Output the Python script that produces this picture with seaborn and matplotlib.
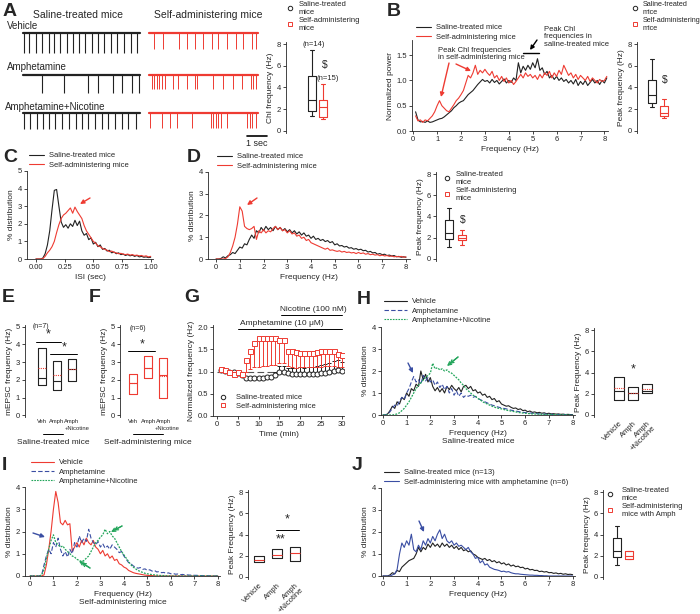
import numpy as np
import seaborn as sns
import matplotlib.pyplot as plt
from matplotlib.lines import Line2D

W, H = 700, 614
RED = "#ee3b32"
BLUE = "#3a4ea3"
GREEN = "#22a55a"
BLK = "#222222"

# ---------------- data ----------------
# A: spike times (s) in the example traces
veh_sal_spk = [0.05, 0.32, 0.63, 0.93, 1.32, 1.55, 1.85, 2.18, 2.48, 2.8, 3.12, 3.45, 3.77, 4.05, 4.38, 4.72, 5.05, 5.38, 5.68]
veh_self_spk = [0.25, 0.72, 1.5, 1.92, 2.3, 2.72, 3.13, 3.47, 3.88, 4.33, 4.72, 5.13, 5.35]
amph_sal_spk = [0.93, 2.07, 3.27, 3.73, 4.48, 4.97, 5.43, 5.82]
amph_self_spk = [0.13, 0.25, 0.38, 0.52, 0.63, 0.82, 1.22, 1.47, 1.88, 2.3, 2.42, 3.22, 3.68, 4.18, 4.67, 5.08, 5.22, 5.35]
nic_sal_spk = [0.05, 0.35, 0.68, 0.98, 1.32, 1.6, 1.93, 2.32, 2.65, 2.97, 3.27, 3.6, 3.93, 4.27, 4.6, 4.97, 5.27, 5.63]
nic_self_spk = [0.05, 0.67, 1.05, 1.42, 2.13, 3.08, 3.22, 3.35, 3.47, 3.6, 3.88, 4.92, 5.05, 5.17, 5.35]

# box stats: [saline, self-administering]
a_lo, a_q1, a_med, a_q3, a_hi = [1.4, 1.1], [1.8, 1.3], [2.8, 2.2], [5.1, 2.85], [7.5, 4.3]
b_lo, b_q1, b_med, b_q3, b_hi = [2.2, 1.2], [2.6, 1.4], [3.3, 1.6], [4.7, 2.3], [6.6, 2.9]
d_lo, d_q1, d_med, d_q3, d_hi = [1.1, 1.3], [1.9, 1.8], [2.4, 2.0], [3.7, 2.3], [4.8, 2.7]
j_lo, j_q1, j_med, j_q3, j_hi = [1.1, 1.7], [1.9, 1.7], [2.4, 2.0], [3.7, 2.4], [4.8, 2.4]

# B: normalized power, 0.1 .. 8.1 Hz
b_freq = np.round(np.arange(0.1, 8.15, 0.1), 1)
b_saline = [0.38, 0.22, 0.18, 0.19, 0.17, 0.20, 0.17, 0.18, 0.20, 0.22,
            0.24, 0.25, 0.28, 0.32, 0.36, 0.40, 0.46, 0.50, 0.55, 0.58,
            0.60, 0.66, 0.72, 0.76, 0.80, 0.86, 0.92, 0.97, 1.02, 0.98,
            1.00, 0.95, 1.02, 0.96, 1.00, 0.93, 0.98, 1.03, 0.95, 1.00,
            0.96, 1.05, 1.00, 1.35, 1.15, 1.28, 1.20, 1.30, 1.22, 1.35,
            1.25, 1.43, 1.20, 1.25, 1.12, 1.18, 1.05, 1.10, 1.02, 1.08,
            1.00, 1.05, 0.98, 1.02, 0.95, 1.00, 0.93, 1.02, 0.90, 0.98,
            0.92, 1.00, 0.90, 0.96, 1.02, 0.95, 1.00, 0.92, 1.00, 0.95,
            1.05]
b_self = [0.30, 0.20, 0.22, 0.17, 0.22, 0.20, 0.25, 0.30, 0.38, 0.50,
          0.60, 0.50, 0.45, 0.40, 0.38, 0.45, 0.52, 0.60, 0.65, 0.72,
          0.80, 0.95, 1.10, 1.05, 1.15, 1.30, 1.12, 1.20, 1.15, 1.22,
          1.15, 1.10, 1.18, 1.05, 1.10, 1.00, 1.08, 0.98, 1.05, 0.95,
          1.00, 0.92, 0.98, 1.05, 1.12, 1.05, 1.15, 1.08, 1.12, 1.05,
          1.10, 1.02, 1.12, 1.05, 1.15, 1.10, 1.18, 1.05, 1.15, 1.08,
          1.20, 1.12, 1.30, 1.20, 1.10, 1.15, 1.05, 1.12, 1.02, 1.10,
          1.05, 1.00, 1.08, 0.98, 1.05, 1.00, 0.95, 1.02, 0.98, 1.00,
          1.08]

# C: ISI distribution, 0 .. 1 s
isi = np.round(np.arange(0, 1.001, 0.02), 2)
c_saline = [0, 0, 0, 0.05, 0.3, 0.8, 1.6, 2.8, 3.9, 3.95,
            3.0, 2.1, 1.8, 1.95, 1.75, 2.0, 1.85, 2.2, 1.9, 2.15,
            1.6, 1.35, 1.45, 1.1, 1.2, 0.85, 0.95, 0.7, 0.8, 0.55,
            0.6, 0.45, 0.5, 0.35, 0.4, 0.3, 0.35, 0.25, 0.28, 0.2,
            0.25, 0.18, 0.22, 0.15, 0.2, 0.12, 0.15, 0.1, 0.12, 0.08,
            0.1]
c_self = [0, 0, 0, 0.02, 0.15, 0.35, 0.5, 0.7, 1.0, 1.5,
          1.95, 2.3, 2.5, 2.6, 2.75, 2.9, 2.6, 2.95, 2.7, 2.5,
          2.3, 1.9, 1.6, 1.4, 1.2, 1.0, 0.9, 0.75, 0.7, 0.6,
          0.55, 0.5, 0.42, 0.45, 0.38, 0.35, 0.3, 0.32, 0.28, 0.25,
          0.28, 0.22, 0.25, 0.2, 0.22, 0.18, 0.2, 0.15, 0.18, 0.12,
          0.15]

# frequency distributions, 0 .. 8 Hz
freq = np.round(np.arange(0, 8.01, 0.1), 1)
d_saline = [0, 0, 0.02, 0.1, 0.05, 0.15, 0.2, 0.3, 0.25, 0.4,
            0.55, 0.5, 0.7, 0.65, 0.9, 1.1, 0.95, 1.3, 1.2, 1.45,
            1.3, 1.5, 1.35, 1.45, 1.3, 1.5, 1.35, 1.45, 1.3, 1.4,
            1.25, 1.35, 1.2, 1.3, 1.15, 1.25, 1.1, 1.2, 1.05, 1.1,
            0.95, 1.05, 0.9, 0.95, 0.85, 0.9, 0.8, 0.85, 0.75, 0.8,
            0.65, 0.7, 0.6, 0.62, 0.55, 0.58, 0.5, 0.52, 0.45, 0.48,
            0.42, 0.45, 0.38, 0.4, 0.32, 0.35, 0.28, 0.3, 0.22, 0.25,
            0.2, 0.22, 0.16, 0.18, 0.14, 0.16, 0.1, 0.12, 0.08, 0.1,
            0.08]
d_self = [0, 0, 0, 0, 0.02, 0.1, 0.3, 0.6, 1.0, 1.6,
          2.4, 2.2, 1.5, 1.4, 1.35, 1.4, 1.5, 0.9, 1.3, 1.2,
          1.35, 1.2, 1.3, 1.25, 1.4, 1.5, 1.35, 1.45, 1.3, 1.35,
          1.2, 1.3, 1.15, 1.2, 1.05, 1.1, 0.95, 1.0, 0.85, 0.9,
          0.75, 0.7, 0.65, 0.6, 0.55, 0.5, 0.45, 0.5, 0.4, 0.42,
          0.38, 0.35, 0.38, 0.32, 0.35, 0.3, 0.32, 0.28, 0.3, 0.25,
          0.3, 0.25, 0.28, 0.22, 0.25, 0.2, 0.22, 0.18, 0.2, 0.15,
          0.18, 0.14, 0.16, 0.12, 0.14, 0.1, 0.12, 0.1, 0.12, 0.08,
          0.1]

# E / F: mEPSC frequency boxes (Veh, Amph, Amph+Nicotine)
e_q1, e_med, e_mean, e_q3 = [1.7, 1.45, 1.95], [2.1, 1.95, 2.6], [2.65, 2.25, 2.6], [3.8, 3.05, 3.15]
f_q1, f_med, f_mean, f_q3 = [1.2, 2.1, 1.0], [1.8, 2.65, 2.3], [1.8, 2.65, 2.2], [2.35, 3.35, 3.25]
ef_labels = ["Veh", "Amph", "Amph"]

# G: normalized frequency time course
g_time = list(range(1, 31))
g_saline = [1.03, 1.01, 1.0, 0.98, 0.97, 0.92, 0.85, 0.85, 0.85, 0.86,
            0.86, 0.87, 0.88, 0.92, 0.98, 1.0, 0.97, 0.95, 0.95, 0.95,
            0.95, 0.95, 0.95, 0.95, 0.96, 0.97, 1.0, 1.02, 1.03, 1.02]
g_saline_err = [0.02, 0.02, 0.02, 0.02, 0.02, 0.02, 0.02, 0.02, 0.02, 0.02,
                0.02, 0.02, 0.03, 0.08, 0.15, 0.12, 0.1, 0.12, 0.12, 0.15,
                0.13, 0.15, 0.15, 0.17, 0.18, 0.2, 0.2, 0.22, 0.22, 0.2]
g_self = [1.06, 1.03, 1.0, 0.95, 0.98, 0.95, 1.25, 1.45, 1.65, 1.75,
          1.75, 1.75, 1.75, 1.75, 1.7, 1.7, 1.47, 1.45, 1.43, 1.42,
          1.42, 1.42, 1.42, 1.43, 1.45, 1.47, 1.47, 1.45, 1.4, 1.38]
g_self_err = [0.02, 0.02, 0.02, 0.02, 0.02, 0.02, 0.25, 0.4, 0.55, 0.65,
              0.62, 0.62, 0.6, 0.6, 0.5, 0.5, 0.35, 0.35, 0.35, 0.33,
              0.33, 0.33, 0.33, 0.33, 0.35, 0.35, 0.35, 0.33, 0.3, 0.28]

# H: saline-treated mice
h_veh = [0, 0, 0.05, 0.2, 0.4, 0.3, 0.6, 0.5, 0.8, 0.7,
         1.0, 0.85, 1.2, 1.1, 1.4, 1.3, 2.0, 1.6, 1.85, 1.5,
         1.7, 1.3, 1.1, 1.25, 1.05, 1.2, 1.0, 1.3, 1.15, 1.35,
         1.2, 1.1, 1.25, 1.05, 1.3, 1.35, 1.2, 1.3, 1.1, 1.15,
         1.0, 1.05, 0.9, 0.95, 0.8, 0.85, 0.7, 0.75, 0.6, 0.65,
         0.5, 0.45, 0.4, 0.42, 0.35, 0.3, 0.32, 0.25, 0.28, 0.2,
         0.22, 0.15, 0.18, 0.12, 0.14, 0.1, 0.12, 0.08, 0.1, 0.06,
         0.08, 0.05, 0.06, 0.04, 0.05, 0.03, 0.04, 0.02, 0.03, 0.02,
         0.02]
h_amph = [0, 0, 0.02, 0.15, 0.3, 0.45, 0.4, 0.65, 0.8, 0.7,
          1.0, 1.2, 1.5, 1.75, 1.5, 1.6, 1.4, 1.8, 1.55, 1.7,
          1.5, 1.6, 1.35, 1.5, 1.25, 1.4, 1.15, 1.3, 1.0, 1.2,
          0.9, 1.1, 0.85, 1.0, 0.8, 0.9, 0.85, 0.9, 0.8, 0.85,
          0.75, 0.7, 0.65, 0.6, 0.55, 0.5, 0.45, 0.42, 0.38, 0.35,
          0.32, 0.3, 0.28, 0.25, 0.22, 0.2, 0.18, 0.16, 0.14, 0.12,
          0.11, 0.1, 0.09, 0.08, 0.07, 0.06, 0.05, 0.05, 0.04, 0.04,
          0.03, 0.03, 0.02, 0.02, 0.02, 0.01, 0.01, 0.01, 0.01, 0,
          0]
h_nic = [0, 0, 0, 0, 0, 0.02, 0.05, 0.1, 0.2, 0.3,
         0.45, 0.6, 0.8, 1.0, 1.2, 1.35, 1.45, 1.6, 1.7, 1.8,
         1.9, 2.35, 2.1, 2.15, 2.05, 2.1, 2.0, 2.05, 1.95, 1.9,
         1.8, 1.7, 1.6, 1.45, 1.35, 1.2, 1.1, 1.0, 0.9, 0.85,
         0.75, 0.7, 0.6, 0.55, 0.5, 0.45, 0.4, 0.36, 0.32, 0.3,
         0.28, 0.25, 0.22, 0.2, 0.18, 0.16, 0.14, 0.12, 0.1, 0.09,
         0.08, 0.07, 0.06, 0.05, 0.05, 0.04, 0.04, 0.03, 0.03, 0.02,
         0.02, 0.02, 0.02, 0.01, 0.01, 0.01, 0.01, 0.01, 0, 0,
         0]
h_q1, h_med, h_mean, h_q3 = [1.4, 1.4, 2.1], [2.3, 2.1, 2.3], [2.55, 2.1, 2.4], [3.55, 2.65, 2.95]

# I: self-administering mice
i_veh = [0, 0, 0, 0, 0, 0, 0.05, 0.5, 1.2, 2.0,
         3.0, 3.8, 3.3, 2.4, 2.3, 2.5, 2.3, 2.35, 1.1, 1.3,
         1.5, 1.3, 1.6, 1.4, 1.7, 1.5, 1.4, 1.6, 1.3, 1.2,
         1.0, 1.15, 0.9, 1.0, 0.8, 0.9, 0.7, 0.75, 0.55, 0.5,
         0.4, 0.35, 0.25, 0.2, 0.15, 0.12, 0.1, 0.08, 0.06, 0.04,
         0.03, 0.02, 0.02, 0.01, 0, 0, 0, 0, 0, 0,
         0, 0, 0, 0, 0, 0, 0, 0, 0, 0,
         0, 0, 0, 0, 0, 0, 0, 0, 0, 0,
         0]
i_amph = [0, 0, 0, 0, 0, 0.05, 0.5, 0.9, 1.2, 1.0,
          1.5, 1.3, 1.7, 1.2, 0.9, 1.1, 0.85, 1.2, 1.0, 1.5,
          1.3, 1.8, 1.5, 1.7, 1.55, 2.1, 1.7, 1.5, 1.4, 1.55,
          1.3, 1.45, 1.25, 1.35, 1.2, 1.4, 1.3, 1.2, 1.05, 1.1,
          0.9, 0.75, 0.6, 0.55, 0.45, 0.4, 0.35, 0.38, 0.3, 0.32,
          0.25, 0.28, 0.22, 0.25, 0.18, 0.2, 0.15, 0.16, 0.12, 0.14,
          0.1, 0.11, 0.08, 0.09, 0.06, 0.07, 0.05, 0.05, 0.04, 0.04,
          0.03, 0.03, 0.02, 0.02, 0.01, 0.01, 0.01, 0, 0, 0,
          0]
i_nic = [0, 0, 0, 0, 0, 0.05, 0.3, 0.8, 1.2, 1.6,
         1.85, 1.5, 1.4, 1.3, 1.35, 1.2, 1.1, 1.0, 0.9, 0.85,
         0.75, 0.7, 0.65, 0.7, 0.8, 0.9, 1.1, 1.3, 1.5, 1.6,
         1.75, 1.85, 2.1, 1.9, 2.0, 1.8, 1.7, 1.5, 1.3, 1.1,
         0.95, 0.8, 0.65, 0.5, 0.4, 0.32, 0.25, 0.2, 0.16, 0.12,
         0.1, 0.08, 0.06, 0.05, 0.04, 0.03, 0.02, 0.02, 0.01, 0.01,
         0, 0, 0, 0, 0, 0, 0, 0, 0, 0,
         0, 0, 0, 0, 0, 0, 0, 0, 0, 0,
         0]
i_q1, i_med, i_q3 = [1.4, 1.8, 1.5], [1.6, 2.1, 2.25], [1.95, 2.6, 2.85]
hi_labels = ["Vehicle", "Amph", "Amph\n+Nicotine"]

# J
j_saline = [0, 0, 0, 0.05, 0.15, 0.1, 0.25, 0.2, 0.4, 0.5,
            0.6, 0.7, 0.75, 0.8, 1.0, 1.3, 1.1, 1.3, 1.2, 1.45,
            1.3, 1.5, 1.35, 1.45, 1.3, 1.5, 1.35, 1.45, 1.3, 1.4,
            1.25, 1.35, 1.2, 1.3, 1.15, 1.2, 1.1, 1.15, 1.0, 0.95,
            0.85, 0.8, 0.75, 0.8, 0.7, 0.75, 0.65, 0.7, 0.6, 0.65,
            0.55, 0.6, 0.5, 0.55, 0.45, 0.5, 0.42, 0.45, 0.38, 0.4,
            0.32, 0.35, 0.28, 0.3, 0.25, 0.26, 0.2, 0.22, 0.18, 0.2,
            0.15, 0.16, 0.12, 0.14, 0.1, 0.12, 0.08, 0.1, 0.07, 0.08,
            0.06]
j_amph = [0, 0, 0, 0, 0.05, 0.1, 0.3, 1.0, 1.5, 1.3,
          1.6, 1.4, 1.9, 1.2, 1.1, 1.4, 1.2, 1.6, 1.4, 1.7,
          1.5, 1.8, 1.6, 1.9, 2.1, 1.7, 1.9, 1.6, 1.5, 1.6,
          1.4, 1.5, 1.35, 1.4, 1.3, 1.2, 1.3, 1.1, 1.0, 0.8,
          0.85, 0.6, 0.7, 0.5, 0.55, 0.4, 0.35, 0.3, 0.28, 0.25,
          0.2, 0.22, 0.18, 0.2, 0.15, 0.12, 0.1, 0.1, 0.08, 0.07,
          0.06, 0.05, 0.04, 0.04, 0.03, 0.03, 0.02, 0.02, 0.01, 0.01,
          0, 0, 0, 0, 0, 0, 0, 0, 0, 0,
          0]

# ---------------- style ----------------
sns.set_style("ticks")
plt.rcParams['font.family'] = ['Liberation Sans', 'DejaVu Sans']
plt.rcParams.update({'axes.linewidth': 0.6, 'xtick.major.width': 0.6, 'ytick.major.width': 0.6,
                     'xtick.major.size': 2, 'ytick.major.size': 2,
                     'xtick.labelsize': 5.5, 'ytick.labelsize': 5.5,
                     'axes.labelsize': 6, 'axes.labelpad': 2,
                     'xtick.major.pad': 1.5, 'ytick.major.pad': 1.5})

fig = plt.figure(figsize=(7, 6.14), dpi=100)


def box(l, t, r, b):
    return fig.add_axes([l / W, 1 - b / H, (r - l) / W, (b - t) / H])


def leg(ax, handles, labels, x, y, fs=5.5, **kw):
    kw.setdefault('handlelength', 2.0)
    kw.setdefault('handletextpad', 0.6)
    kw.setdefault('labelspacing', 0.25)
    ax.legend(handles, labels, loc='upper left', bbox_to_anchor=(x / W, 1 - y / H),
              bbox_transform=fig.transFigure, frameon=False, borderpad=0,
              borderaxespad=0, fontsize=fs, **kw)


def line_h(c, ls='-'):
    return Line2D([], [], color=c, lw=0.8, ls=ls)


def mark_h(m, c):
    return Line2D([], [], marker=m, ls='', color=c, mfc='white', mec=c, ms=3.2, mew=0.7)


def boxes(ax, pos, lo, q1, med, q3, hi, colors, width, med_colors, mean=None, caps=True):
    for i in range(len(pos)):
        st = dict(whislo=lo[i], q1=q1[i], med=med[i], q3=q3[i], whishi=hi[i], fliers=[])
        if mean is not None:
            st['mean'] = mean[i]
        c = colors[i]
        ax.bxp([st], positions=[pos[i]], widths=width, showfliers=False, showcaps=caps,
               showmeans=mean is not None, meanline=True, manage_ticks=False,
               boxprops=dict(color=c, lw=0.8), whiskerprops=dict(color=c, lw=0.8),
               capprops=dict(color=c, lw=0.8), medianprops=dict(color=med_colors[i], lw=0.8),
               meanprops=dict(color=RED, ls=(0, (1, 1)), lw=0.8))


def box_axis(ax, xlim):
    ax.set_xlim(*xlim)
    ax.set_ylim(-0.2, 8.2)
    ax.set_yticks([0, 2, 4, 6, 8])
    ax.set_xticks([])
    sns.despine(ax=ax, bottom=True)


def dist_axis(ax, xlim):
    ax.set_xlim(*xlim)
    ax.set_ylim(0, 4)
    ax.set_yticks([0, 1, 2, 3, 4])
    ax.set_xticks(range(9))
    ax.set_ylabel("% distribution")
    sns.despine(ax=ax)


# ---------------- A ----------------
ax = box(20, 20, 310, 140)
ax.set_xlim(-0.15, 14.35)
ax.set_ylim(140, 20)
ax.axis('off')
rows = [(veh_sal_spk, veh_self_spk, 33, 20, 16),
        (amph_sal_spk, amph_self_spk, 75, 18, 14),
        (nic_sal_spk, nic_self_spk, 113, 16, 15)]
for sal, slf, base, dsal, dslf in rows:
    ax.plot([0, 5.85], [base, base], color=BLK, lw=1.6)
    ax.vlines(sal, base, base + dsal, color=BLK, lw=0.8)
    ax.plot([6.3, 6.3 + 5.45], [base, base], color=RED, lw=1.6)
    ax.vlines(np.array(slf) + 6.3, base, base + dslf, color=RED, lw=0.7)
ax.plot([11.2, 12.2], [136, 136], color='k', lw=1.2)

ax = box(286, 42, 335, 133)
boxes(ax, [0, 1], a_lo, a_q1, a_med, a_q3, a_hi, [BLK, RED], 0.7, [BLK, RED])
box_axis(ax, (-2.36, 2.1))
ax.set_ylabel("Chl frequency (Hz)")
leg(ax, [mark_h('o', BLK), mark_h('s', RED)], ["Saline-treated\nmice", "Self-administering\nmice"],
    285, 1, handlelength=1.2, labelspacing=0.1)

# ---------------- B ----------------
ax = box(412, 40, 608, 131)
sns.lineplot(x=b_freq, y=b_saline, ax=ax, color=BLK, lw=0.8)
sns.lineplot(x=b_freq, y=b_self, ax=ax, color=RED, lw=0.8)
ax.set_xlim(-0.05, 8.15)
ax.set_ylim(0, 1.8)
ax.set_xticks(range(9))
ax.set_yticks([0, 0.5, 1.0, 1.5])
ax.set_yticklabels(["0.0", "0.5", "1.0", "1.5"])
ax.set_xlabel("Frequency (Hz)")
ax.set_ylabel("Normalized power")
sns.despine(ax=ax)
ax.plot([4.6, 5.27], [1.54, 1.54], color='k', lw=1.0, clip_on=False)
leg(ax, [line_h(BLK), line_h(RED)], ["Saline-treated mice", "Self-administering mice"], 416, 24)

ax = box(637, 42, 680, 133)
boxes(ax, [0, 1], b_lo, b_q1, b_med, b_q3, b_hi, [BLK, RED], 0.7, [BLK, RED])
box_axis(ax, (-1.25, 2.33))
ax.set_ylabel("Peak frequency (Hz)")
leg(ax, [mark_h('o', BLK), mark_h('s', RED)], ["Saline-treated\nmice", "Self-administering\nmice"],
    631, 1, fs=5.2, handlelength=1.1, handletextpad=0.5, labelspacing=0.1)

# ---------------- C ----------------
ax = box(27, 171, 153, 259)
sns.lineplot(x=isi, y=c_saline, ax=ax, color=BLK, lw=0.8)
sns.lineplot(x=isi, y=c_self, ax=ax, color=RED, lw=0.8)
ax.set_xlim(-0.078, 1.02)
ax.set_ylim(0, 5)
ax.set_xticks([0, 0.25, 0.5, 0.75, 1.0])
ax.set_xticklabels(["0.00", "0.25", "0.50", "0.75", "1.00"])
ax.set_xlabel("ISI (sec)")
ax.set_ylabel("% distribution")
sns.despine(ax=ax)
leg(ax, [line_h(BLK), line_h(RED)], ["Saline-treated mice", "Self-administering mice"], 29, 152)

# ---------------- D ----------------
ax = box(208, 172, 410, 259)
sns.lineplot(x=freq, y=d_saline, ax=ax, color=BLK, lw=0.8)
sns.lineplot(x=freq, y=d_self, ax=ax, color=RED, lw=0.8)
dist_axis(ax, (-0.34, 8.17))
ax.set_xlabel("Frequency (Hz)")
leg(ax, [line_h(BLK), line_h(RED)], ["Saline-treated mice", "Self-administering mice"], 217, 153)

ax = box(436, 172, 481, 261)
boxes(ax, [0, 1], d_lo, d_q1, d_med, d_q3, d_hi, [BLK, RED], 0.65, [BLK, RED])
box_axis(ax, (-1.0, 2.5))
ax.set_ylabel("Peak frequency (Hz)")
leg(ax, [mark_h('o', BLK), mark_h('s', RED)], ["Saline-treated\nmice", "Self-administering\nmice"],
    442, 171, handlelength=1.2, labelspacing=0.1)

# ---------------- E / F ----------------
for (l, r, q1, med, mean, q3, col, medc) in [
        (25, 85, e_q1, e_med, e_mean, e_q3, BLK, BLK),
        (120, 180, f_q1, f_med, f_mean, f_q3, RED, RED)]:
    ax = box(l, 325, r, 417)
    boxes(ax, [0, 1, 2], q1, q1, med, q3, q3, [col] * 3, 0.55, [medc] * 3, mean=mean, caps=False)
    ax.set_xlim(-1.13 if l == 25 else -0.87, 2.87 if l == 25 else 3.13)
    ax.set_ylim(-0.1, 5.1)
    ax.set_yticks(range(6))
    ax.set_xticks([0, 1, 2])
    ax.set_xticklabels(ef_labels, fontsize=4.2)
    ax.tick_params(axis='x', length=0, pad=1.5)
    ax.set_ylabel("mEPSC frequency (Hz)")
    sns.despine(ax=ax, bottom=True)
    if l == 25:
        ax.plot([-0.4, 1.27], [4.15, 4.15], color='k', lw=0.7, clip_on=False)
        ax.text(0.4, 4.2, "*", ha='center', va='bottom', fontsize=9)
        ax.plot([0.53, 2.33], [3.47, 3.47], color='k', lw=0.7, clip_on=False)
        ax.text(1.45, 3.52, "*", ha='center', va='bottom', fontsize=9)
        ax.text(-0.65, 5.0, "(n=7)", fontsize=5, va='center')
    else:
        ax.plot([-0.33, 1.47], [3.64, 3.64], color='k', lw=0.7, clip_on=False)
        ax.text(0.6, 3.69, "*", ha='center', va='bottom', fontsize=9)
        ax.text(-0.2, 4.9, "(n=6)", fontsize=5, va='center')

# ---------------- G ----------------
ax = box(213, 325, 344, 416)
ax.axhline(1.0, color='#555555', lw=0.8, ls=(0, (6, 3)), xmin=0.03, xmax=0.99)
ax.errorbar(g_time, g_saline, yerr=[np.zeros(30), g_saline_err], fmt='none',
            ecolor=BLK, elinewidth=0.7, capsize=1.2, capthick=0.7)
ax.errorbar(g_time, g_self, yerr=[g_self_err, np.zeros(30)], fmt='none',
            ecolor=RED, elinewidth=0.7, capsize=1.2, capthick=0.7)
ax.plot(g_time, g_saline, marker='o', ls='', mfc='white', mec=BLK, ms=3.6, mew=0.7)
ax.plot(g_time, g_self, marker='s', ls='', mfc='white', mec=RED, ms=3.6, mew=0.7)
ax.set_xlim(-0.96, 30.5)
ax.set_ylim(0, 2.045)
ax.set_xticks(range(0, 31, 5))
ax.set_yticks([0, 0.5, 1.0, 1.5, 2.0])
ax.set_yticklabels(["0.0", "0.5", "1.0", "1.5", "2.0"])
ax.set_xlabel("Time (min)")
ax.set_ylabel("Normalized frequency (Hz)")
sns.despine(ax=ax)
ax.plot([5, 30], [1.95, 1.95], color='k', lw=0.7, clip_on=False)
ax.text(5.5, 2.0, "Amphetamine (10 μM)", fontsize=6, va='bottom')
ax.plot([15.3, 30], [2.27, 2.27], color='k', lw=0.7, clip_on=False)
ax.text(15.1, 2.32, "Nicotine (100 nM)", fontsize=6, va='bottom')
leg(ax, [mark_h('o', BLK), mark_h('s', RED)], ["Saline-treated mice", "Self-administering mice"],
    219, 394, handlelength=1.0, handletextpad=1.2, labelspacing=0.15)

# ---------------- H ----------------
ax = box(381, 327, 575, 415)
sns.lineplot(x=freq, y=h_veh, ax=ax, color=BLK, lw=0.8)
sns.lineplot(x=freq, y=h_amph, ax=ax, color=BLUE, lw=0.8, linestyle=(0, (4, 2)))
sns.lineplot(x=freq, y=h_nic, ax=ax, color=GREEN, lw=0.9, linestyle=(0, (1.5, 1)))
dist_axis(ax, (-0.08, 8.1))
ax.set_xlabel("Frequency (Hz)\nSaline-treated mice", linespacing=1.2)
leg(ax, [line_h(BLK), line_h(BLUE, (0, (4, 2))), line_h(GREEN, (0, (1.5, 1)))],
    ["Vehicle", "Amphetamine", "Amphetamine+Nicotine"], 384, 298, handlelength=3.0)

ax = box(594, 328, 665, 417)
boxes(ax, [0, 1, 2], h_q1, h_q1, h_med, h_q3, h_q3, [BLK] * 3, 0.7, [BLK] * 3, mean=h_mean, caps=False)
box_axis(ax, (-1.79, 3.29))
ax.set_xticks([0, 1, 2])
ax.set_xticklabels(hi_labels, rotation=45, ha='right', rotation_mode='anchor', fontsize=5.5,
                   linespacing=0.9)
ax.tick_params(axis='x', length=0, pad=2)
ax.set_ylabel("Peak Frequency (Hz)")
ax.text(1, 3.7, "*", ha='center', va='bottom', fontsize=9)

# ---------------- I ----------------
ax = box(25, 487, 220, 576)
sns.lineplot(x=freq, y=i_veh, ax=ax, color=RED, lw=0.8)
sns.lineplot(x=freq, y=i_amph, ax=ax, color=BLUE, lw=0.8, linestyle=(0, (4, 2)))
sns.lineplot(x=freq, y=i_nic, ax=ax, color=GREEN, lw=0.9, linestyle=(0, (1.5, 1)))
dist_axis(ax, (-0.21, 8.09))
ax.set_xlabel("Frequency (Hz)\nSelf-administering mice", linespacing=1.2)
leg(ax, [line_h(RED), line_h(BLUE, (0, (4, 2))), line_h(GREEN, (0, (1.5, 1)))],
    ["Vehicle", "Amphetamine", "Amphetamine+Nicotine"], 31, 459, handlelength=3.0)

ax = box(248, 490, 305, 579)
boxes(ax, [0, 1, 2], i_q1, i_q1, i_med, i_q3, i_q3, [BLK] * 3, 0.55, [RED] * 3, caps=False)
box_axis(ax, (-0.61, 2.56))
ax.set_xticks([0, 1, 2])
ax.set_xticklabels(hi_labels, rotation=45, ha='right', rotation_mode='anchor', fontsize=5.5,
                   linespacing=0.9)
ax.tick_params(axis='x', length=0, pad=2)
ax.set_ylabel("Peak Frequency (Hz)")
ax.plot([0.95, 2.2], [4.45, 4.45], color='k', lw=0.7, clip_on=False)
ax.text(1.55, 4.9, "*", ha='center', va='bottom', fontsize=9)
ax.text(1.2, 3.0, "**", ha='center', va='bottom', fontsize=9)

# ---------------- J ----------------
ax = box(381, 488, 575, 576)
sns.lineplot(x=freq, y=j_saline, ax=ax, color=BLK, lw=0.8)
sns.lineplot(x=freq, y=j_amph, ax=ax, color=BLUE, lw=0.8)
dist_axis(ax, (-0.08, 8.1))
ax.set_xlabel("Frequency (Hz)")
leg(ax, [line_h(BLK), line_h(BLUE)],
    ["Saline-treated mice (n=13)", "Self-administering mice with amphetamine (n=6)"], 384, 469)

ax = box(603, 490, 647, 579)
boxes(ax, [0, 1], j_lo, j_q1, j_med, j_q3, j_hi, [BLK, RED], 0.65, [BLK, RED], caps=True)
box_axis(ax, (-1.17, 2.5))
ax.set_ylabel("Peak frequency (Hz)")
leg(ax, [mark_h('o', BLK), mark_h('s', RED)], ["Saline-treated\nmice", "Self-administering\nmice with Amph"],
    605, 487, handlelength=1.2, handletextpad=1.0, labelspacing=0.1)

# ---------------- overlay: letters, texts, arrows ----------------
ov = fig.add_axes([0, 0, 1, 1], zorder=20)
ov.set_xlim(0, W)
ov.set_ylim(H, 0)
ov.axis('off')

for s, x, y in [("A", 3, 12), ("B", 387, 11), ("C", 3, 158), ("D", 187, 158), ("E", 2, 298),
                ("F", 89, 298), ("G", 184, 298), ("H", 357, 300), ("I", 2, 465), ("J", 352, 466)]:
    ov.text(x, y, s, fontsize=14, weight='bold', va='center', ha='left')

ov.text(78, 15, "Saline-treated mice", fontsize=7.5, ha='center', va='center')
ov.text(208, 15, "Self-administering mice", fontsize=7.5, ha='center', va='center')
ov.text(7, 26, "Vehicle", fontsize=7, va='center')
ov.text(7, 67, "Amphetamine", fontsize=7, va='center')
ov.text(5, 107, "Amphetamine+Nicotine", fontsize=7, va='center')
ov.text(257, 144, "1 sec", fontsize=6.5, ha='center', va='center')
ov.text(314, 44, "(n=14)", fontsize=5.5, ha='center', va='center')
ov.text(325, 65, "$", fontsize=7.5, ha='center', va='center')
ov.text(328, 78, "(n=15)", fontsize=5.5, ha='center', va='center')
ov.text(665, 80, "$", fontsize=7.5, ha='center', va='center')
ov.text(463, 220, "$", fontsize=7.5, ha='center', va='center')

ov.text(438, 54, "Peak Chl frequencies\nin self-administering mice", fontsize=5.5, va='center',
        linespacing=1.15)
ov.text(544, 37, "Peak Chl\nfrequencies in\nsaline-treated mice", fontsize=5.5, va='center',
        linespacing=1.15)

# E/F "+Nicotine" second line and group labels
ov.text(77, 428.5, "+Nicotine", fontsize=4.2, ha='center', va='center')
ov.text(167, 428.5, "+Nicotine", fontsize=4.2, ha='center', va='center')
for x0, x1, lab in [(43, 63, "Saline-treated mice"), (133, 163, "Self-administering mice")]:
    ov.plot([x0, x1], [434, 434], color='k', lw=0.7)
    ov.text((x0 + x1) / 2, 442, lab, fontsize=6, ha='center', va='center')


def arrow(p0, p1, c, style='-|>', lw=1.0, ms=6):
    ov.annotate("", xy=p1, xytext=p0,
                arrowprops=dict(arrowstyle=style, color=c, lw=lw, mutation_scale=ms,
                                shrinkA=0, shrinkB=0))


def darrow(p0, p1, c):
    arrow(p0, p1, c, style='->', lw=0.9, ms=6)
    dx, dy = p1[0] - p0[0], p1[1] - p0[1]
    n = np.hypot(dx, dy)
    q = (p1[0] - 3 * dx / n, p1[1] - 3 * dy / n)
    arrow(p0, q, c, style='->', lw=0.9, ms=6)


arrow((449, 63), (441, 97), RED)
arrow((456, 64), (471, 71), RED)
arrow((537, 40), (530, 50), 'k')
arrow((90, 198), (80, 204), RED)
arrow((257, 198), (247, 205), RED)
arrow((408, 363), (413, 373), BLUE)
darrow((458, 357), (447, 366), GREEN)
arrow((33, 533), (45, 537), BLUE)
darrow((122, 526), (111, 532), GREEN)
darrow((90, 568), (79, 561), GREEN)
arrow((419, 521), (424, 532), BLUE)

fig.savefig("out.png", dpi=100)
